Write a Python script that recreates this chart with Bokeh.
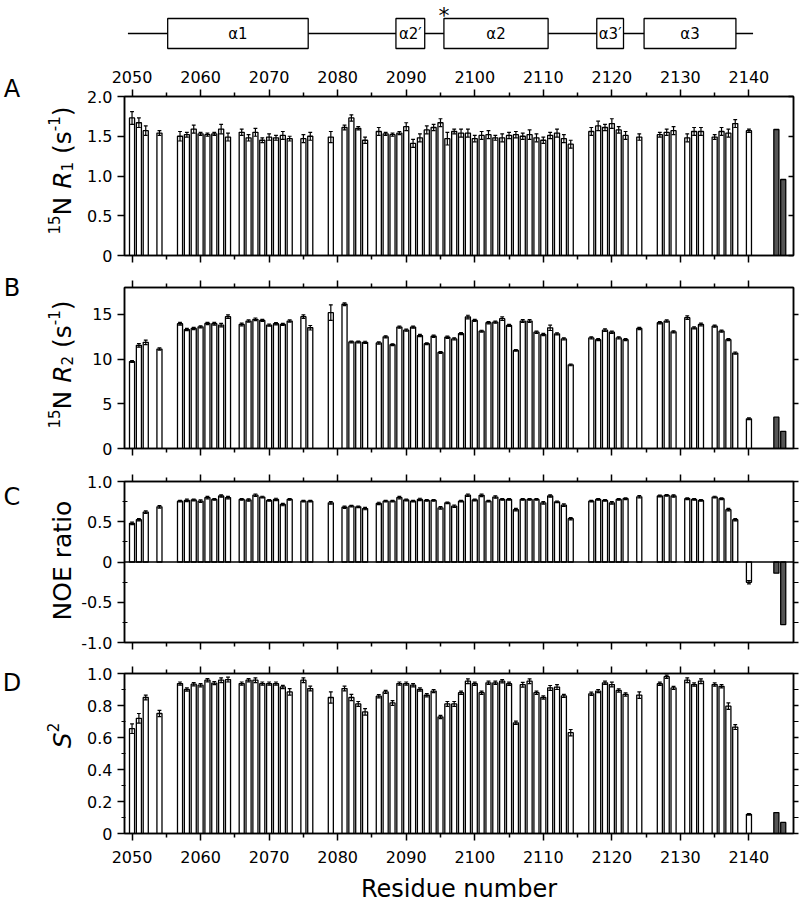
import math
from bokeh.plotting import figure
from bokeh.layouts import column, row
from bokeh.models import Range1d, LinearAxis, FixedTicker, Span
from bokeh.embed import file_html
from bokeh.resources import INLINE
from bokeh.core.properties import value

FONT = "DejaVu Sans"

# ---------------- data ----------------
residues = [2050, 2051, 2052, 2054,
            2057, 2058, 2059, 2060, 2061, 2062, 2063, 2064,
            2066, 2067, 2068, 2069, 2070, 2071, 2072, 2073,
            2075, 2076, 2079,
            2081, 2082, 2083, 2084,
            2086, 2087, 2088, 2089, 2090, 2091, 2092, 2093, 2094, 2095, 2096,
            2097, 2098, 2099, 2100, 2101, 2102, 2103, 2104, 2105, 2106, 2107,
            2108, 2109, 2110, 2111, 2112, 2113, 2114,
            2117, 2118, 2119, 2120, 2121, 2122, 2124,
            2127, 2128, 2129, 2131, 2132, 2133,
            2135, 2136, 2137, 2138, 2140]

r1 = [1.73, 1.67, 1.57, 1.54,
      1.50, 1.52, 1.59, 1.53, 1.52, 1.53, 1.59, 1.49,
      1.55, 1.48, 1.55, 1.45, 1.49, 1.48, 1.51, 1.47,
      1.47, 1.50, 1.49,
      1.61, 1.73, 1.60, 1.45,
      1.56, 1.53, 1.52, 1.54, 1.62, 1.41, 1.48, 1.58, 1.61, 1.67, 1.47,
      1.56, 1.54, 1.54, 1.47, 1.51, 1.52, 1.48, 1.48, 1.51, 1.52, 1.50,
      1.52, 1.48, 1.45, 1.51, 1.54, 1.47, 1.40,
      1.56, 1.63, 1.61, 1.66, 1.58, 1.51, 1.49,
      1.52, 1.55, 1.57, 1.48, 1.56, 1.56,
      1.49, 1.56, 1.54, 1.66, 1.57]
r1_err = [0.08, 0.06, 0.06, 0.03,
          0.06, 0.03, 0.05, 0.02, 0.02, 0.02, 0.06, 0.05,
          0.04, 0.04, 0.05, 0.03, 0.04, 0.03, 0.05, 0.03,
          0.05, 0.05, 0.07,
          0.03, 0.04, 0.02, 0.04,
          0.05, 0.02, 0.02, 0.02, 0.05, 0.05, 0.05, 0.05, 0.04, 0.05, 0.08,
          0.03, 0.05, 0.05, 0.04, 0.05, 0.05, 0.03, 0.05, 0.04, 0.04, 0.04,
          0.06, 0.05, 0.04, 0.04, 0.05, 0.05, 0.05,
          0.05, 0.06, 0.04, 0.06, 0.04, 0.05, 0.04,
          0.03, 0.04, 0.05, 0.05, 0.05, 0.05,
          0.03, 0.05, 0.05, 0.05, 0.02]

r2 = [9.72, 11.53, 11.87, 11.12,
      13.95, 13.30, 13.42, 13.60, 13.98, 13.95, 13.80, 14.74,
      13.87, 14.25, 14.44, 14.32, 13.80, 13.95, 13.87, 14.25,
      14.74, 13.50, 15.19,
      16.13, 11.91, 11.91, 11.87,
      11.80, 12.48, 11.60, 13.57, 13.23, 13.57, 12.63, 11.72, 12.55, 10.74, 12.44,
      12.25, 12.85, 14.70, 14.32, 13.12, 14.06, 14.13, 14.51, 13.76, 10.97, 14.25,
      14.25, 13.00, 12.74, 13.49, 12.82, 12.25, 9.35,
      12.36, 12.17, 13.23, 13.00, 12.36, 12.17, 13.42,
      14.06, 14.25, 13.04, 14.63, 13.49, 13.87,
      13.68, 13.12, 12.17, 10.67, 3.32]
r2_err = [0.10, 0.20, 0.25, 0.12,
          0.15, 0.12, 0.12, 0.12, 0.12, 0.15, 0.20, 0.20,
          0.15, 0.12, 0.15, 0.12, 0.12, 0.12, 0.12, 0.12,
          0.20, 0.25, 0.87,
          0.15, 0.10, 0.10, 0.12,
          0.12, 0.12, 0.10, 0.12, 0.12, 0.12, 0.12, 0.10, 0.12, 0.10, 0.12,
          0.12, 0.12, 0.20, 0.12, 0.10, 0.12, 0.12, 0.20, 0.12, 0.10, 0.15,
          0.15, 0.12, 0.12, 0.30, 0.12, 0.12, 0.10,
          0.12, 0.12, 0.15, 0.12, 0.12, 0.12, 0.12,
          0.12, 0.12, 0.12, 0.20, 0.12, 0.15,
          0.12, 0.12, 0.12, 0.12, 0.10]

noe = [0.480, 0.525, 0.620, 0.685,
       0.756, 0.765, 0.770, 0.756, 0.800, 0.777, 0.820, 0.800,
       0.777, 0.770, 0.830, 0.807, 0.765, 0.777, 0.714, 0.777,
       0.756, 0.756, 0.735,
       0.680, 0.693, 0.685, 0.664,
       0.727, 0.756, 0.756, 0.800, 0.770, 0.756, 0.777, 0.765, 0.765, 0.672, 0.735,
       0.693, 0.756, 0.830, 0.770, 0.828, 0.756, 0.807, 0.777, 0.777, 0.650, 0.777,
       0.777, 0.777, 0.735, 0.820, 0.748, 0.706, 0.538,
       0.756, 0.777, 0.765, 0.735, 0.777, 0.786, 0.810,
       0.820, 0.828, 0.820, 0.786, 0.777, 0.765,
       0.807, 0.786, 0.650, 0.525, -0.252]
noe_err = [0.015, 0.015, 0.015, 0.015,
           0.010, 0.015, 0.010, 0.015, 0.015, 0.010, 0.015, 0.015,
           0.010, 0.015, 0.015, 0.010, 0.010, 0.015, 0.015, 0.010,
           0.010, 0.010, 0.015,
           0.015, 0.010, 0.010, 0.015,
           0.015, 0.010, 0.010, 0.015, 0.010, 0.010, 0.015, 0.010, 0.010, 0.015, 0.010,
           0.015, 0.010, 0.015, 0.010, 0.015, 0.010, 0.015, 0.010, 0.010, 0.015, 0.010,
           0.010, 0.010, 0.015, 0.015, 0.010, 0.015, 0.015,
           0.010, 0.010, 0.010, 0.015, 0.010, 0.010, 0.015,
           0.010, 0.010, 0.015, 0.010, 0.010, 0.010,
           0.010, 0.010, 0.015, 0.015, 0.020]

s2 = [0.655, 0.720, 0.850, 0.750,
      0.937, 0.900, 0.933, 0.927, 0.958, 0.940, 0.958, 0.962,
      0.937, 0.958, 0.958, 0.937, 0.937, 0.937, 0.916, 0.885,
      0.958, 0.906, 0.850,
      0.906, 0.850, 0.810, 0.760,
      0.858, 0.885, 0.816, 0.937, 0.937, 0.927, 0.900, 0.864, 0.890, 0.728, 0.810,
      0.810, 0.880, 0.952, 0.936, 0.880, 0.942, 0.942, 0.952, 0.936, 0.692, 0.930,
      0.952, 0.880, 0.850, 0.910, 0.915, 0.860, 0.630,
      0.873, 0.890, 0.942, 0.931, 0.894, 0.869, 0.865,
      0.936, 0.980, 0.910, 0.958, 0.931, 0.952,
      0.931, 0.920, 0.796, 0.665, 0.120]
s2_err = [0.030, 0.030, 0.015, 0.020,
          0.010, 0.010, 0.010, 0.010, 0.010, 0.010, 0.015, 0.015,
          0.010, 0.010, 0.015, 0.010, 0.010, 0.010, 0.010, 0.020,
          0.015, 0.015, 0.035,
          0.015, 0.020, 0.015, 0.020,
          0.010, 0.010, 0.015, 0.010, 0.010, 0.010, 0.010, 0.010, 0.010, 0.010, 0.015,
          0.015, 0.010, 0.015, 0.010, 0.010, 0.010, 0.010, 0.010, 0.010, 0.010, 0.015,
          0.015, 0.010, 0.010, 0.015, 0.015, 0.010, 0.020,
          0.010, 0.010, 0.010, 0.015, 0.010, 0.010, 0.020,
          0.010, 0.010, 0.010, 0.015, 0.010, 0.015,
          0.010, 0.010, 0.020, 0.015, 0.005]

dark_res = [2144, 2145]
r1_dark = [1.585, 0.956]
r2_dark = [3.50, 1.92]
noe_dark = [-0.139, -0.777]
s2_dark = [0.131, 0.069]

x_major = [2050, 2060, 2070, 2080, 2090, 2100, 2110, 2120, 2130, 2140]
x_minor = [2055, 2065, 2075, 2085, 2095, 2105, 2115, 2125, 2135]

# secondary-structure schematic
backbone = [2049.4, 2140.6]
helix_start = [2055.2, 2088.5, 2095.5, 2117.8, 2124.7]
helix_end = [2075.7, 2092.7, 2110.7, 2121.7, 2138.1]
helix_name = ["\u03b11", "\u03b12\u2032", "\u03b12", "\u03b13\u2032", "\u03b13"]
star_res = [2095.5]

# ---------------- layout ----------------
H_TOTAL = 909
STRIP_W = 78
XMIN, XMAX = 2048.9, 2146.5
W = 800 - STRIP_W
LB, RB = 123 - STRIP_W, 7


def xaxis(p, loc, labels, standoff=7, title=None):
    ax = LinearAxis(ticker=FixedTicker(ticks=x_major, minor_ticks=x_minor))
    ax.major_tick_out = 7
    ax.major_tick_in = 0
    ax.minor_tick_out = 4
    ax.minor_tick_in = 0
    ax.axis_line_width = 1.5
    ax.major_tick_line_width = 1.5
    ax.minor_tick_line_width = 1.5
    ax.major_label_text_font = FONT
    ax.major_label_text_color = "black"
    if labels:
        ax.major_label_text_font_size = "16px"
        ax.major_label_standoff = standoff
    else:
        ax.major_label_overrides = {t: "" for t in x_major}
        ax.major_label_text_font_size = "1px"
        ax.major_label_standoff = 0
    if title:
        ax.axis_label = title
        ax.axis_label_text_font = FONT
        ax.axis_label_text_font_size = "24px"
        ax.axis_label_text_font_style = "normal"
        ax.axis_label_text_color = "black"
        ax.axis_label_standoff = 9
    p.add_layout(ax, loc)


def panel(height, top, bottom, ylo, yhi, yticks, ylabels, yminor,
          lminor_in, lminor_out, r_in, r_out, rminor,
          top_labels=False, bottom_labels=False, xtitle=None):
    p = figure(width=W, height=height, x_range=Range1d(XMIN, XMAX),
               y_range=Range1d(ylo, yhi), output_backend="svg",
               toolbar_location=None, x_axis_location=None,
               y_axis_location=None, min_border_left=LB, min_border_right=RB,
               min_border_top=top, min_border_bottom=bottom)
    p.grid.visible = False
    p.outline_line_color = "black"
    p.outline_line_width = 1.5

    xaxis(p, "above", top_labels)
    xaxis(p, "below", bottom_labels, standoff=10, title=xtitle)

    ya = LinearAxis(ticker=FixedTicker(ticks=yticks, minor_ticks=yminor))
    ya.major_label_overrides = {t: s for t, s in zip(yticks, ylabels)}
    ya.major_tick_out = 7
    ya.major_tick_in = 0
    ya.minor_tick_out = lminor_out
    ya.minor_tick_in = lminor_in
    ya.axis_line_width = 1.5
    ya.major_tick_line_width = 1.5
    ya.minor_tick_line_width = 1.2
    ya.major_label_text_font = FONT
    ya.major_label_text_font_size = "16px"
    ya.major_label_text_color = "black"
    ya.major_label_standoff = 5
    p.add_layout(ya, "left")

    yr = LinearAxis(ticker=FixedTicker(ticks=yticks, minor_ticks=rminor))
    yr.major_tick_out = r_out
    yr.major_tick_in = r_in
    yr.minor_tick_out = r_out
    yr.minor_tick_in = r_in
    yr.axis_line_width = 1.5
    yr.major_tick_line_width = 1.5
    yr.minor_tick_line_width = 1.2
    yr.major_label_overrides = {t: "" for t in yticks}
    yr.major_label_text_font_size = "1px"
    yr.major_label_standoff = 0
    p.add_layout(yr, "right")
    return p


def bars(p, vals, errs, dvals, ylo):
    if ylo < 0:
        p.add_layout(Span(location=0, dimension="width", line_color="black",
                          line_width=1.5))
    p.vbar(x=residues, top=vals, bottom=0, width=0.74, fill_color="white",
           line_color="black", line_width=1.3)
    p.vbar(x=dark_res, top=dvals, bottom=0, width=0.74, fill_color="#555555",
           line_color="black", line_width=1.3)
    lo = [v - e for v, e in zip(vals, errs)]
    hi = [v + e for v, e in zip(vals, errs)]
    p.segment(x0=residues, y0=lo, x1=residues, y1=hi, line_color="black",
              line_width=1.2)
    left = [r - 0.28 for r in residues]
    right = [r + 0.28 for r in residues]
    p.segment(x0=left, y0=hi, x1=right, y1=hi, line_color="black",
              line_width=1.2)
    p.segment(x0=left, y0=lo, x1=right, y1=lo, line_color="black",
              line_width=1.2)


# ---- schematic ----
SCH_H = 53
sch = figure(width=W, height=SCH_H, x_range=Range1d(XMIN, XMAX),
             y_range=Range1d(SCH_H, 0), output_backend="svg",
             toolbar_location=None, x_axis_location=None, y_axis_location=None,
             min_border_left=LB, min_border_right=RB, min_border_top=0,
             min_border_bottom=0)
sch.grid.visible = False
sch.outline_line_color = None
sch.line(x=backbone, y=[33, 33], line_color="black", line_width=1.3)
sch.quad(left=helix_start, right=helix_end, top=[18] * 5, bottom=[48] * 5,
         fill_color="white", line_color="black", line_width=1.3)
sch.text(x=[(a + b) / 2 for a, b in zip(helix_start, helix_end)],
         y=[33] * 5, text=helix_name, text_font=value(FONT),
         text_font_size="15px", text_align="center", text_baseline="middle",
         text_color="black")
sch.text(x=star_res, y=[2], text=["*"], text_font=value(FONT),
         text_font_size="22px", text_align="center", text_baseline="top",
         text_color="black")

# ---- panels ----
pA = panel(218, 43, 16, 0, 2.0, [0, 0.5, 1.0, 1.5, 2.0],
           ["0", "0.5", "1.0", "1.5", "2.0"], [], 0, 0, 5, 0, [],
           top_labels=True)
bars(pA, r1, r1_err, r1_dark, 0)

pB = panel(193, 16, 16, 0, 18, [0, 5, 10, 15], ["0", "5", "10", "15"], [],
           0, 0, 0, 5, [])
bars(pB, r2, r2_err, r2_dark, 0)

pC = panel(193, 17, 15, -1.0, 1.0, [-1.0, -0.5, 0, 0.5, 1.0],
           ["-1.0", "-0.5", "0", "0.5", "1.0"], [-0.75, -0.25, 0.25, 0.75],
           3, 2, 0, 5, [-0.75, -0.25, 0.25, 0.75])
bars(pC, noe, noe_err, noe_dark, -1.0)

pD = panel(252, 16, 76, 0, 1.0, [0, 0.2, 0.4, 0.6, 0.8, 1.0],
           ["0", "0.2", "0.4", "0.6", "0.8", "1.0"],
           [0.1, 0.3, 0.5, 0.7, 0.9], 1, 3, 0, 5, [0.1, 0.3, 0.5, 0.7, 0.9],
           bottom_labels=True, xtitle="Residue number")
bars(pD, s2, s2_err, s2_dark, 0)

# ---- left strip: panel letters and y-axis titles ----
strip = figure(width=STRIP_W, height=H_TOTAL, x_range=Range1d(0, STRIP_W),
               y_range=Range1d(0, H_TOTAL), output_backend="svg",
               toolbar_location=None, x_axis_location=None,
               y_axis_location=None, min_border_left=0, min_border_right=0,
               min_border_top=0, min_border_bottom=0)
strip.grid.visible = False
strip.outline_line_color = None

letters = ["A", "B", "C", "D"]
letter_y = [88, 287, 496, 682]
strip.text(x=[11.5] * 4, y=[H_TOTAL - v for v in letter_y], text=letters,
           text_font=value(FONT), text_font_size="24px", text_align="center",
           text_baseline="middle", text_color="black")

ADV = {"1": .636, "5": .636, "2": .636, "N": .748, " ": .318, "R": .695,
       "(": .390, "s": .521, "-": .361, ")": .390, "S": .635, "O": .787,
       "E": .632, "r": .411, "a": .613, "t": .392, "i": .278, "o": .612}


def vtitle(x_base, y_center, pieces):
    # pieces: (text, size, italic, raise); a text of " " is only an advance
    widths = [sum(ADV[c] for c in t) * sz for t, sz, it, sh in pieces]
    total = sum(widths)
    cur = y_center + total / 2.0
    for (t, sz, it, sh), w in zip(pieces, widths):
        if t.strip():
            strip.text(x=[x_base - sh], y=[H_TOTAL - cur], text=[t],
                       angle=math.pi / 2, text_font=value(FONT),
                       text_font_size="%dpx" % sz,
                       text_font_style="italic" if it else "normal",
                       text_align="left", text_baseline="alphabetic",
                       text_color="black")
        cur -= w


BASE = 62
vtitle(BASE, 170, [("15", 15, False, 9), ("N", 25, False, 0),
                   (" ", 25, False, 0), ("R", 25, True, 0),
                   ("1", 15, False, -4), (" ", 25, False, 0),
                   ("(s", 25, False, 0), ("-1", 15, False, 9),
                   (")", 25, False, 0)])
vtitle(BASE, 364, [("15", 15, False, 9), ("N", 25, False, 0),
                   (" ", 25, False, 0), ("R", 25, True, 0),
                   ("2", 15, False, -4), (" ", 25, False, 0),
                   ("(s", 25, False, 0), ("-1", 15, False, 9),
                   (")", 25, False, 0)])
vtitle(BASE, 560, [("NOE ratio", 25, False, 0)])
vtitle(BASE, 735, [("S", 25, True, 0), ("2", 15, False, 10)])

layout = row(strip, column(sch, pA, pB, pC, pD, spacing=0), spacing=0)
open("out.html", "w").write(file_html(layout, INLINE))
